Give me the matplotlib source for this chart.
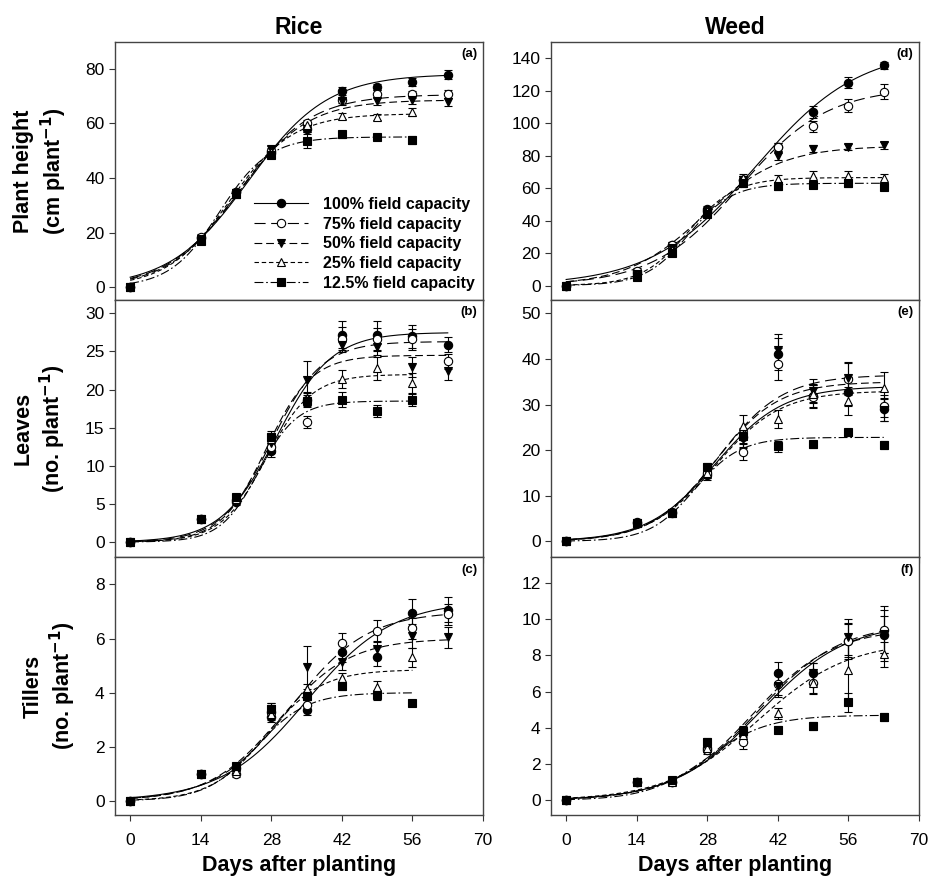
import numpy as np
import matplotlib
matplotlib.use("Agg")
import matplotlib.pyplot as plt
from matplotlib.lines import Line2D

plt.rcParams['font.family'] = ['Liberation Sans', 'DejaVu Sans']

# sampling days
days = [0, 14, 21, 28, 35, 42, 49, 56, 63]

treatments = ['100% field capacity', '75% field capacity', '50% field capacity',
              '25% field capacity', '12.5% field capacity']

# Rice - plant height (cm plant-1); None = not measured
rice_height = [
    [0, 18, 35, 49, 58, 71.8, 73.3, 75.1, 77.8],
    [0, 18.5, 35, 50, 60, 68.5, 70.6, 70.6, 70.6],
    [0, 17.5, 34.5, 50.5, 58, 68, 68.1, 68.4, 67.8],
    [0, 17.5, 34, 49.5, 59.2, 62.6, 62.3, 64.1, None],
    [0, 17, 34, 48.5, 53.5, 55.9, 54.9, 53.9, None],
]
rice_height_err = [
    [0, 1, 1, 1, 1.2, 1.5, 1.2, 1.5, 1.5],
    [0, 1, 1, 1, 1.2, 1.2, 1.5, 1.2, 1.5],
    [0, 1, 1, 1, 1.2, 1.2, 1.5, 1.5, 1.5],
    [0, 1, 1, 1, 1.2, 1.2, 1.2, 1.5, 0],
    [0, 1, 1, 1, 2.5, 1.2, 1.0, 1.5, 0],
]

# Rice - leaves (no. plant-1)
rice_leaves = [
    [0, 3.0, 5.3, 12.0, 18.7, 27.2, 27.1, 27.0, 25.9],
    [0, 3.0, 5.5, 12.5, 15.8, 26.7, 26.6, 26.6, 23.7],
    [0, 3.0, 5.8, 13.0, 21.2, 25.9, 25.6, 23.0, 22.4],
    [0, 3.0, 5.6, 13.5, 18.9, 21.4, 22.8, 20.9, None],
    [0, 3.0, 5.9, 13.8, 18.5, 18.7, 17.2, 18.6, None],
]
rice_leaves_err = [
    [0, 0.2, 0.4, 0.8, 0.8, 1.8, 1.9, 1.5, 1.0],
    [0, 0.2, 0.4, 0.8, 0.8, 1.5, 1.5, 1.4, 1.0],
    [0, 0.2, 0.4, 0.8, 2.5, 1.0, 1.0, 1.3, 1.2],
    [0, 0.2, 0.4, 0.8, 0.8, 1.2, 1.5, 1.3, 0],
    [0, 0.2, 0.4, 0.8, 0.8, 1.0, 0.8, 0.8, 0],
]

# Rice - tillers (no. plant-1)
rice_tillers = [
    [0, 1.0, 1.2, 3.1, 3.36, 5.5, 5.33, 6.95, 7.07],
    [0, 1.0, 1.0, 3.3, 3.54, 5.84, 6.27, 6.37, 6.89],
    [0, 1.0, 1.1, 3.4, 4.93, 5.14, 5.6, 6.09, 6.04],
    [0, 1.0, 1.1, 3.2, 4.12, 4.53, 4.22, 5.3, None],
    [0, 1.0, 1.3, 3.4, 3.87, 4.24, 3.91, 3.6, None],
]
rice_tillers_err = [
    [0, 0.05, 0.1, 0.2, 0.2, 0.35, 0.35, 0.5, 0.45],
    [0, 0.05, 0.1, 0.2, 0.2, 0.35, 0.4, 0.4, 0.4],
    [0, 0.05, 0.1, 0.2, 0.8, 0.3, 0.3, 0.45, 0.4],
    [0, 0.05, 0.1, 0.2, 0.2, 0.2, 0.2, 0.35, 0],
    [0, 0.05, 0.1, 0.2, 0.15, 0.15, 0.2, 0.1, 0],
]

# Weed - plant height (cm plant-1)
weed_height = [
    [0, 8, 25, 47, 65, 85.5, 107, 125, 135.6],
    [0, 9, 25, 46, 65, 85.3, 98, 110.6, 119.5],
    [0, 7, 23, 45, 65, 79.5, 84.3, 85.3, 86.3],
    [0, 6, 22, 46, 66, 65.8, 67.3, 67.3, 66.3],
    [0, 5, 20, 44, 63, 61.5, 62, 63, 60.9],
]
weed_height_err = [
    [0, 1.5, 2, 2, 2.5, 2.5, 3.5, 3.5, 2],
    [0, 1.5, 2, 2, 2.5, 2.5, 3.5, 4, 4.5],
    [0, 1.5, 2, 2, 2.5, 2, 2, 2, 2],
    [0, 1.5, 2, 2, 2.5, 2.5, 3, 3, 2.5],
    [0, 1.5, 2, 2, 2.5, 2.5, 2, 2.5, 2],
]

# Weed - leaves (no. plant-1)
weed_leaves = [
    [0, 4.3, 6.4, 14.5, 22.8, 41.0, 31.9, 32.7, 29.0],
    [0, 4.0, 6.3, 15.0, 19.6, 38.8, 31.7, 35.6, 29.7],
    [0, 4.0, 6.3, 15.5, 22.4, 42.0, 33.0, 35.8, 28.8],
    [0, 4.0, 6.3, 15.0, 25.3, 26.8, 32.3, 30.8, 33.6],
    [0, 4.0, 6.3, 16.2, 23.1, 20.9, 21.3, 23.9, 21.1],
]
weed_leaves_err = [
    [0, 0.4, 0.4, 1.0, 2.0, 3.5, 2.5, 3.0, 2.5],
    [0, 0.4, 0.4, 1.0, 1.8, 3.5, 2.5, 3.5, 2.5],
    [0, 0.4, 0.4, 1.0, 2.0, 3.5, 2.5, 3.5, 2.5],
    [0, 0.4, 0.4, 1.0, 2.5, 2.0, 2.0, 3.0, 3.5],
    [0, 0.4, 0.4, 1.0, 1.5, 1.2, 0.8, 0.8, 0.8],
]

# Weed - tillers (no. plant-1)
weed_tillers = [
    [0, 1.0, 1.0, 2.9, 3.8, 7.0, 7.0, 8.8, 9.1],
    [0, 1.0, 1.0, 2.8, 3.2, 6.4, 6.45, 8.8, 9.4],
    [0, 1.0, 1.0, 3.0, 3.7, 6.3, 7.0, 9.0, 9.15],
    [0, 1.0, 1.0, 2.9, 3.6, 4.8, 6.5, 7.2, 8.05],
    [0, 1.0, 1.1, 3.2, 3.85, 3.9, 4.1, 5.4, 4.6],
]
weed_tillers_err = [
    [0, 0.1, 0.15, 0.25, 0.3, 0.65, 0.6, 1.0, 1.4],
    [0, 0.1, 0.15, 0.25, 0.35, 0.6, 0.6, 0.9, 1.3],
    [0, 0.1, 0.15, 0.25, 0.3, 0.6, 0.6, 1.0, 1.0],
    [0, 0.1, 0.15, 0.25, 0.3, 0.3, 0.6, 1.6, 0.7],
    [0, 0.1, 0.15, 0.25, 0.2, 0.2, 0.2, 0.5, 0.2],
]

# fitted sigmoid curves y = a / (1 + exp(-(x - x0) / b)): (a, x0, b)
rice_height_fit = [(78, 23.5, 7.84), (70.5, 21.6, 7.14), (68.5, 21.3, 6.9), (63.5, 19.8, 6.25), (55, 17.7, 4.9)]
rice_leaves_fit = [(27.5, 29, 5.5), (26.3, 28, 5.0), (24.5, 27, 4.5), (22, 27, 4.5), (18.5, 25.5, 3.8)]
rice_tillers_fit = [(7.4, 35, 8.5), (7.0, 32, 7.5), (6.0, 29.5, 7.0), (4.85, 27, 5.5), (4.0, 25, 5.0)]
weed_height_fit = [(146, 37.5, 10.3), (122, 34.5, 8.7), (86, 27.3, 7.63), (66.5, 24.25, 4.63), (63, 24.3, 4.35)]
weed_leaves_fit = [(34, 29.6, 6.7), (36.5, 30, 6.5), (35, 29.5, 6.3), (33, 29.5, 6.5), (22.8, 25.5, 4.5)]
weed_tillers_fit = [(9.8, 38.5, 8.5), (9.8, 38, 8.3), (9.5, 37, 8.0), (8.8, 38, 9.0), (4.7, 28, 6.0)]

markers = ['o', 'o', 'v', '^', 's']
faces = ['black', 'white', 'black', 'white', 'black']
styles = ['-', (0, (10, 5)), (0, (7, 3.5)), (0, (4, 2.5)), (0, (8, 2.5, 1.5, 2.5))]


def sigmoid(x, a, x0, b):
    return a / (1 + np.exp(-(x - x0) / b))


def draw_panel(ax, values, errors, fits):
    for i in range(5):
        xs = [d for d, v in zip(days, values[i]) if v is not None]
        ys = [v for v in values[i] if v is not None]
        es = [e for e, v in zip(errors[i], values[i]) if v is not None]
        xx = np.linspace(0, xs[-1], 200)
        ax.plot(xx, sigmoid(xx, *fits[i]), color='black', lw=0.8, ls=styles[i], zorder=2)
        ax.errorbar(xs, ys, yerr=es, fmt='none', ecolor='black', elinewidth=0.8,
                    capsize=3, capthick=0.8, zorder=3)
        ax.plot(xs, ys, ls='none', marker=markers[i], ms=6, mfc=faces[i],
                mec='black', mew=0.8, zorder=4)


fig = plt.figure(figsize=(9.3, 8.9), dpi=100)
lefts = [0.1237, 0.5925]
bottoms = [0.6633, 0.3738, 0.0843]
w, h = 0.3957, 0.2895

panels = [
    [(rice_height, rice_height_err, rice_height_fit), (weed_height, weed_height_err, weed_height_fit)],
    [(rice_leaves, rice_leaves_err, rice_leaves_fit), (weed_leaves, weed_leaves_err, weed_leaves_fit)],
    [(rice_tillers, rice_tillers_err, rice_tillers_fit), (weed_tillers, weed_tillers_err, weed_tillers_fit)],
]
ylims = [[(-4.5, 89.7), (-8.7, 150)], [(-2, 31.8), (-3.5, 53)], [(-0.52, 9.0), (-0.8, 13.4)]]
yticks = [[np.arange(0, 81, 20), np.arange(0, 141, 20)],
          [np.arange(0, 31, 5), np.arange(0, 51, 10)],
          [np.arange(0, 9, 2), np.arange(0, 13, 2)]]
letters = [['(a)', '(d)'], ['(b)', '(e)'], ['(c)', '(f)']]
ylabels = ['Plant height\n(cm plant$^{\\mathbf{-1}}$)',
           'Leaves\n(no. plant$^{\\mathbf{-1}}$)',
           'Tillers\n(no. plant$^{\\mathbf{-1}}$)']

axes = {}
for r in range(3):
    for c in range(2):
        ax = fig.add_axes([lefts[c], bottoms[r], w, h])
        axes[(r, c)] = ax
        vals, errs, fits = panels[r][c]
        draw_panel(ax, vals, errs, fits)
        ax.set_xlim(-3, 70)
        ax.set_ylim(*ylims[r][c])
        ax.set_xticks([0, 14, 28, 42, 56, 70])
        ax.set_yticks(yticks[r][c])
        ax.tick_params(direction='out', length=4, width=0.8, labelsize=12.5, color='#333333')
        ax.tick_params(axis='x', pad=9)
        if r < 2:
            ax.tick_params(labelbottom=False)
        for s in ax.spines.values():
            s.set_linewidth(1.0)
            s.set_color('#444444')
        ax.text(0.985, 0.975, letters[r][c], transform=ax.transAxes, ha='right', va='top',
                fontsize=9.5, fontweight='bold')
        if c == 0:
            ax.set_ylabel(ylabels[r], fontsize=15.5, fontweight='bold', labelpad=12, linespacing=1.2)
        if r == 2:
            ax.set_xlabel('Days after planting', fontsize=15.5, fontweight='bold', labelpad=5)
        if r == 0:
            ax.set_title(['Rice', 'Weed'][c], fontsize=16.5, fontweight='bold', pad=6)

handles = [Line2D([0], [0], color='black', lw=0.8, ls=styles[i], marker=markers[i],
                  ms=6, mfc=faces[i], mec='black', mew=0.8) for i in range(5)]
axes[(0, 0)].legend(handles, treatments, loc='lower right', frameon=False,
                    prop={'weight': 'bold', 'size': 11.5}, handlelength=3.4,
                    labelspacing=0.3, borderaxespad=0.15, handletextpad=0.9)

fig.savefig('out.png', dpi=100)
